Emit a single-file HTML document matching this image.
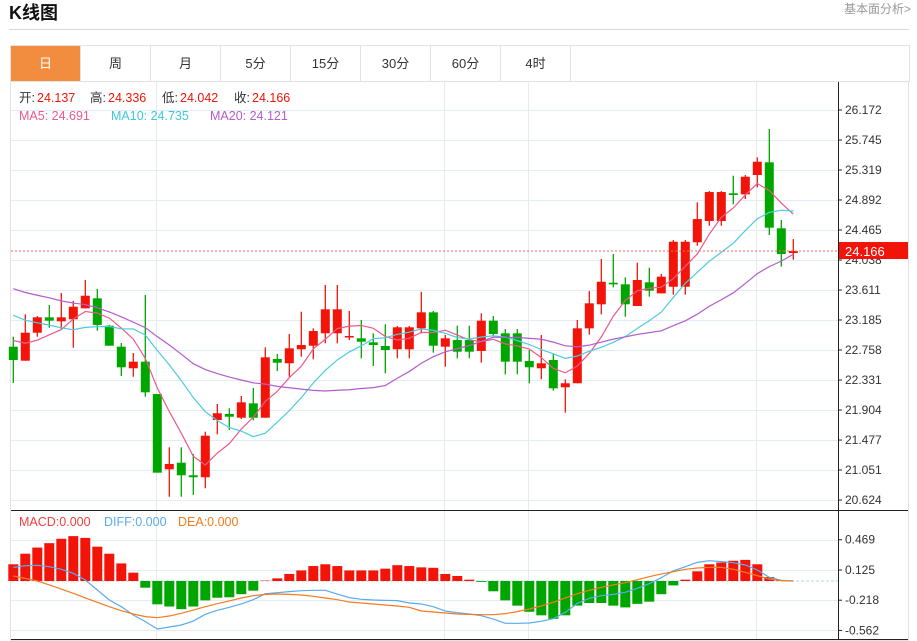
<!DOCTYPE html>
<html><head><meta charset="utf-8">
<style>
body{margin:0;width:917px;height:641px;background:#fff;position:relative;overflow:hidden;font-family:"Liberation Sans","Noto Sans CJK SC",sans-serif;}
.abs{position:absolute;}
#title{left:9px;top:-1px;font-size:18px;font-weight:bold;color:#111;}
#more{right:6px;top:0px;font-size:12px;color:#999;}
#hline{left:9px;top:29px;width:900px;height:1px;background:#d8d8d8;}
#tabs{left:10px;top:45px;width:898px;height:35px;border:1px solid #e2e2e2;border-bottom:1px solid #e6e6e6;display:flex;}
.tab{width:69px;height:35px;border-right:1px solid #e2e2e2;text-align:center;line-height:35px;font-size:13px;color:#333;}
.tab.on{background:#f28c3e;color:#fff;}
svg{position:absolute;left:0;top:0;}
</style></head><body>
<div id="title" class="abs">K线图</div>
<div id="more" class="abs">基本面分析&gt;</div>
<div id="hline" class="abs"></div>
<div id="tabs" class="abs">
<div class="tab on">日</div>
<div class="tab">周</div>
<div class="tab">月</div>
<div class="tab">5分</div>
<div class="tab">15分</div>
<div class="tab">30分</div>
<div class="tab">60分</div>
<div class="tab">4时</div>
</div>
<svg id="chart" width="917" height="641"></svg>
<script>
const opens=[22.805,22.606,23.004,23.223,23.166,23.195,23.351,23.493,23.104,22.805,22.498,22.592,22.132,21.061,21.155,20.976,20.948,21.762,21.848,21.795,21.999,21.795,22.630,22.569,22.768,22.819,22.996,22.996,22.939,22.924,22.867,22.815,22.768,22.768,23.066,23.294,22.805,22.900,22.900,22.744,23.175,22.995,22.995,22.602,22.498,22.616,22.228,22.285,23.066,23.408,23.715,23.692,23.384,23.721,23.564,23.658,23.658,24.290,24.593,24.593,24.987,24.972,25.247,25.428,24.489,24.137];
const highs=[22.947,23.266,23.241,23.398,23.569,23.455,23.754,23.626,23.114,22.858,22.715,23.540,22.132,21.374,21.374,21.279,21.596,21.990,21.929,22.104,22.218,22.796,22.701,22.986,23.303,23.066,23.683,23.683,23.313,23.185,22.995,23.124,23.100,23.100,23.587,23.313,22.971,23.104,23.104,23.280,23.241,23.057,23.057,22.758,22.971,22.701,22.341,23.185,23.597,24.052,24.123,23.792,24.000,23.928,23.839,24.322,24.322,24.859,25.019,25.019,25.237,25.247,25.499,25.902,24.607,24.336];
const lows=[22.289,22.606,22.947,23.075,23.043,22.791,23.351,23.033,22.819,22.388,22.378,22.094,21.013,20.671,20.671,20.697,20.791,21.559,21.620,21.777,21.757,21.795,22.459,22.378,22.663,22.626,22.853,22.853,22.900,22.640,22.530,22.427,22.640,22.640,22.995,22.720,22.520,22.640,22.640,22.577,22.957,22.412,22.412,22.284,22.341,22.179,21.866,22.285,22.976,23.266,23.650,23.232,23.384,23.517,23.564,23.545,23.545,24.242,24.526,24.526,24.830,24.906,25.072,24.394,23.944,24.042];
const closes=[22.616,23.004,23.223,23.175,23.223,23.374,23.530,23.114,22.819,22.512,22.592,22.156,21.013,21.137,20.976,20.948,21.539,21.858,21.809,22.014,21.795,22.654,22.577,22.782,22.829,23.028,23.337,23.337,22.957,22.876,22.829,22.758,23.081,23.081,23.294,22.819,22.924,22.734,22.734,23.175,22.986,22.592,22.592,22.512,22.569,22.213,22.285,23.066,23.422,23.729,23.692,23.408,23.754,23.602,23.801,24.298,24.298,24.621,25.005,25.005,24.963,25.223,25.436,24.498,24.124,24.166];
const priorCloses=[24.1,24.0,23.9,24.1,24.0,23.95,24.05,24.0,23.9,24.1,23.7,23.6,23.5,23.6,23.65,23.2,23.0,22.8,22.85];
const macdBars=[0.19,0.31,0.38,0.43,0.48,0.51,0.49,0.39,0.31,0.20,0.095,-0.076,-0.265,-0.29,-0.32,-0.29,-0.22,-0.19,-0.185,-0.15,-0.11,0.005,0.03,0.08,0.12,0.17,0.19,0.17,0.12,0.12,0.12,0.14,0.18,0.17,0.155,0.15,0.08,0.057,0.015,-0.01,-0.117,-0.22,-0.28,-0.35,-0.39,-0.43,-0.39,-0.28,-0.25,-0.25,-0.28,-0.30,-0.26,-0.235,-0.15,-0.05,0.015,0.11,0.19,0.21,0.23,0.24,0.19,0.045,0.005,0];
const diffVals=[0.155,0.174,0.178,0.163,0.133,0.087,0.011,-0.102,-0.216,-0.292,-0.386,-0.462,-0.545,-0.523,-0.5,-0.455,-0.379,-0.333,-0.299,-0.261,-0.212,-0.144,-0.133,-0.121,-0.11,-0.106,-0.106,-0.148,-0.189,-0.208,-0.216,-0.22,-0.223,-0.25,-0.261,-0.292,-0.341,-0.36,-0.375,-0.394,-0.432,-0.481,-0.481,-0.477,-0.458,-0.428,-0.356,-0.254,-0.197,-0.167,-0.152,-0.129,-0.083,-0.03,0.038,0.114,0.163,0.212,0.231,0.22,0.208,0.182,0.125,0.042,0.008,0];
const deaVals=[0.057,0.03,0,-0.045,-0.091,-0.14,-0.193,-0.242,-0.292,-0.337,-0.375,-0.405,-0.417,-0.398,-0.367,-0.33,-0.292,-0.258,-0.227,-0.193,-0.167,-0.152,-0.148,-0.152,-0.159,-0.174,-0.193,-0.212,-0.239,-0.25,-0.261,-0.273,-0.284,-0.299,-0.341,-0.352,-0.364,-0.375,-0.379,-0.383,-0.383,-0.371,-0.348,-0.318,-0.284,-0.242,-0.193,-0.144,-0.106,-0.072,-0.045,-0.019,0.015,0.049,0.08,0.106,0.133,0.148,0.155,0.155,0.133,0.098,0.061,0.023,0.004,0];
const priceTicks=["26.172","25.745","25.319","24.892","24.465","24.038","23.611","23.185","22.758","22.331","21.904","21.477","21.051","20.624"];
const macdTicks=["0.469","0.125","-0.218","-0.562"];

const NS="http://www.w3.org/2000/svg";
const svg=document.getElementById('chart');
function mk(tag,attrs,parent){const e=document.createElementNS(NS,tag);for(const k in attrs)e.setAttribute(k,attrs[k]);(parent||svg).appendChild(e);return e;}
const xOf=i=>13.3+12*i;
const yP=p=>110+(26.172-p)*70.3;
const yM=v=>581-v*88;
const RED='#f21409',GREEN='#00a600';

// frame
let e;
e=mk('rect',{x:10.5,y:81.5,width:898,height:559,fill:'none',stroke:'#e2e2e2'});


// grid
const grid=mk('g',{stroke:'#e3ecf3','stroke-width':1});


priceTicks.forEach(t=>{const y=Math.round(yP(parseFloat(t)))+0.5;mk('line',{x1:11,x2:838,y1:y,y2:y},grid);});
macdTicks.forEach(t=>{const y=Math.round(yM(parseFloat(t)))+0.5;mk('line',{x1:11,x2:838,y1:y,y2:y},grid);});
[156.5,444.5,528.5,756.5].forEach(x=>mk('line',{x1:x,x2:x,y1:82,y2:640},grid));
// axis lines
mk('line',{x1:838.5,x2:838.5,y1:82,y2:640,stroke:'#222'});
mk('line',{x1:11,x2:908,y1:510.5,y2:510.5,stroke:'#222'});
mk('line',{x1:11,x2:908,y1:639.5,y2:639.5,stroke:'#222'});
// price ticks
const pt=mk('g',{'font-size':12,fill:'#333'});


priceTicks.forEach(t=>{const y=yP(parseFloat(t));mk('line',{x1:838,x2:842,y1:y,y2:y,stroke:'#222'},pt);const tx=mk('text',{x:845,y:y+4},pt);tx.textContent=t;});
const mt=mk('g',{'font-size':12,fill:'#333'});


macdTicks.forEach(t=>{const y=yM(parseFloat(t));mk('line',{x1:838,x2:842,y1:y,y2:y,stroke:'#222'},mt);const tx=mk('text',{x:845,y:y+4},mt);tx.textContent=t;});
// candles
const cg=mk('g',{});


for(let i=0;i<opens.length;i++){
  const up=closes[i]>=opens[i];const col=up?RED:GREEN;const x=xOf(i);
  const g=mk('g',{},cg);
  
  
  mk('line',{x1:x,x2:x,y1:yP(highs[i]),y2:yP(lows[i]),stroke:col,'stroke-width':1.3},g);
  const t=yP(Math.max(opens[i],closes[i])),b=yP(Math.min(opens[i],closes[i]));
  mk('rect',{x:x-4.5,y:t,width:9,height:Math.max(1.5,b-t),fill:col},g);
}
// MAs
const all=priorCloses.concat(closes);const off=priorCloses.length;
function ma(n){return closes.map((c,i)=>{let s=0;for(let k=0;k<n;k++)s+=all[off+i-k];return s/n;});}
[[5,'#ec5a8a','ma5-line'],[10,'#4ccbe0','ma10-line'],[20,'#b45ccc','ma20-line']].forEach(([n,c,nm])=>{
  const v=ma(n);const p=mk('polyline',{points:v.map((m,i)=>xOf(i)+','+yP(m)).join(' '),fill:'none',stroke:c,'stroke-width':1.2});
  
  
});
// last price
const lp=closes[closes.length-1];const ly=yP(lp);
e=mk('line',{x1:11,x2:838,y1:ly,y2:ly,stroke:'#f06a6a','stroke-dasharray':'2,2'});


e=mk('rect',{x:839,y:ly-9,width:69,height:17,fill:'#f21409'});


e=mk('text',{x:845,y:ly+5,'font-size':13,fill:'#fff'});e.textContent=lp.toFixed(3);
// MACD
e=mk('line',{x1:11,x2:838,y1:581,y2:581,stroke:'#a8d8ec','stroke-dasharray':'3,2'});


const mb=mk('g',{});


macdBars.forEach((v,i)=>{const y=yM(v);const r=mk('rect',{x:xOf(i)-5,y:Math.min(y,581),width:10,height:Math.abs(581-y),fill:v>=0?RED:GREEN},mb);
  
  });
e=mk('polyline',{points:diffVals.map((v,i)=>xOf(i)+','+yM(v)).join(' '),fill:'none',stroke:'#5aaaf0','stroke-width':1.2});


e=mk('polyline',{points:deaVals.map((v,i)=>xOf(i)+','+yM(v)).join(' '),fill:'none',stroke:'#f57a20','stroke-width':1.2});


// legends
function txt(x,y,s,c,name){const t=mk('text',{x:x,y:y,'font-size':12.5,fill:c});t.textContent=s;return t;}
txt(19,102,'开:','#333','open-label');txt(37,102,'24.137',RED,'open-value');
txt(90,102,'高:','#333','high-label');txt(108,102,'24.336',RED,'high-value');
txt(162,102,'低:','#333','low-label');txt(180,102,'24.042',RED,'low-value');
txt(234,102,'收:','#333','close-label');txt(252,102,'24.166',RED,'close-value');
txt(19,120,'MA5: 24.691','#ec5a8a','ma5-legend');
txt(111,120,'MA10: 24.735','#3cc8e0','ma10-legend');
txt(210,120,'MA20: 24.121','#b45ccc','ma20-legend');
txt(19,526,'MACD:0.000','#f04040','macd-legend');
txt(104,526,'DIFF:0.000','#5aaaf0','diff-legend');
txt(178,526,'DEA:0.000','#f57a20','dea-legend');
</script>
</body></html>
